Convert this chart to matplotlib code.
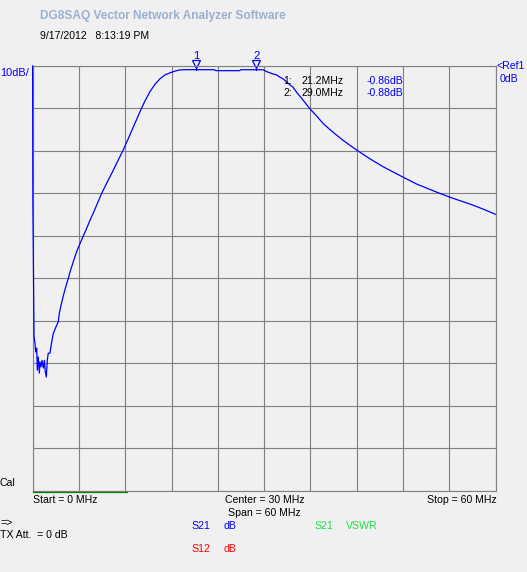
import matplotlib.pyplot as plt
import matplotlib.transforms as mtransforms
import numpy as np

W, H = 527, 572

# S21 trace (MHz, dB)
freq_mhz = [0.0, 0.03, 0.18, 0.31, 0.40, 0.53, 0.61, 0.74, 0.87, 0.96, 1.09, 1.22,
            1.39, 1.52, 1.65, 1.78, 1.90, 2.03, 2.25, 2.48, 2.68, 3.03, 3.33, 3.46,
            3.64, 3.90, 4.11, 4.42, 4.63, 4.85, 5.27, 5.71, 6.14, 6.57, 7.01, 7.44,
            7.87, 8.31, 8.95, 9.68, 10.3, 11.0, 11.68, 12.3, 12.9, 13.5, 14.05, 14.57,
            15.22, 15.86, 16.51, 17.16, 17.81, 18.46, 19.0, 19.5, 23.5, 23.8, 26.8,
            27.0, 29.9, 30.34, 31.15, 31.63, 32.06, 32.49, 32.93, 33.36, 33.75,
            34.22, 35.08, 35.95, 36.82, 37.67, 38.54, 39.41, 40.26, 41.13, 42.0,
            43.72, 45.45, 48.04, 49.78, 52.37, 54.09, 56.68, 58.41, 59.96]
s21_db = [0.0, -31.0, -63.6, -65.3, -67.3, -66.4, -71.6, -68.5, -72.3, -69.7, -70.8,
          -69.3, -71.1, -69.3, -72.0, -73.2, -69.3, -67.6, -67.6, -64.9, -63.0, -61.4,
          -60.2, -58.2, -56.7, -54.7, -53.2, -51.2, -50.0, -48.5, -46.1, -43.7, -41.8,
          -40.0, -38.2, -36.3, -34.6, -32.7, -30.0, -27.3, -25.1, -22.5, -20.0, -17.5,
          -15.0, -12.5, -10.2, -8.2, -6.0, -4.3, -3.0, -2.1, -1.6, -1.2, -0.95, -0.87,
          -0.87, -1.1, -1.1, -0.88, -0.88, -1.33, -1.87, -2.1, -2.65, -3.05, -3.8,
          -4.46, -5.0, -6.2, -8.1, -10.1, -11.8, -13.57, -14.98, -16.3, -17.53, -18.68,
          -19.79, -21.86, -23.74, -26.2, -27.8, -29.7, -30.9, -32.5, -33.7, -34.9]

marker_freq = [21.2, 29.0]
marker_db = [-0.86, -0.88]

BG = '#f0f0f0'
BLUE = '#0000ff'
plt.rcParams['font.family'] = ['Liberation Sans', 'DejaVu Sans']
FS = 7.6


def px(x, y):
    return x / W, 1 - y / H


fig = plt.figure(figsize=(W / 100, H / 100), dpi=100, facecolor=BG)
ax = fig.add_axes([32.6 / W, 1 - 490.8 / H, 463 / W, 424.8 / H])
ax.set_facecolor(BG)

ax.set_xlim(0, 60)
ax.set_ylim(-100, 0)
ax.set_xticks(np.linspace(0, 60, 11))
ax.set_yticks(np.arange(-100, 1, 10))
ax.tick_params(length=0, labelbottom=False, labelleft=False)
ax.grid(True, color='#808080', linewidth=0.8)
for sp in ax.spines.values():
    sp.set_color('#808080')
    sp.set_linewidth(0.8)

ax.plot(freq_mhz, s21_db, color=BLUE, linewidth=0.9, clip_on=False, zorder=3)

# sweep indicator along the bottom edge
ax.plot([0, 12.2], [-100.3, -100.3], color='#008000', linewidth=0.9, clip_on=False, zorder=4)

# markers above the grid
trans = mtransforms.blended_transform_factory(ax.transData, ax.transAxes)
for i, (f, d) in enumerate(zip(marker_freq, marker_db)):
    ax.plot([f, f], [-0.3, d], color=BLUE, linewidth=0.8, zorder=3)
    ax.plot([f], [1.005], marker='v', markersize=5.5, mfc='none', mec=BLUE,
            mew=0.9, transform=trans, clip_on=False)
    fig.text(*px(32.6 + f / 60 * 463, 56), str(i + 1), color=BLUE, fontsize=FS + 0.6,
             ha='center', va='center')

# marker readouts
for i, (f, d) in enumerate(zip(marker_freq, marker_db)):
    y = 81.5 + i * 12
    fig.text(*px(283.5, y), f"{i + 1}:", fontsize=FS, va='center')
    fig.text(*px(301.5, y), f"{f:.1f}MHz", fontsize=FS, va='center')
    fig.text(*px(403, y), f"{d:.2f}dB", fontsize=FS, va='center', ha='right', color=BLUE)

fig.text(*px(40.5, 16), "DG8SAQ Vector Network Analyzer Software", fontsize=8.6,
         fontweight='bold', color='#9bb1cf', va='center')
fig.text(*px(40.5, 36), "9/17/2012   8:13:19 PM", fontsize=FS, va='center')
fig.text(*px(0, 72.5), "10dB/", fontsize=FS + 0.3, va='center', color=BLUE)
fig.text(*px(496.5, 66), "<Ref1", fontsize=FS, va='center', color=BLUE)
fig.text(*px(499.5, 79), "0dB", fontsize=FS, va='center', color=BLUE)

fig.text(*px(0, 483), "Cal", fontsize=FS, va='center')
fig.text(*px(32.6, 500), "Start = 0 MHz", fontsize=FS, va='center')
fig.text(*px(264.5, 500), "Center = 30 MHz", fontsize=FS, va='center', ha='center')
fig.text(*px(264.5, 513), "Span = 60 MHz", fontsize=FS, va='center', ha='center')
fig.text(*px(496.5, 500), "Stop = 60 MHz", fontsize=FS, va='center', ha='right')
fig.text(*px(0, 522.5), "=>", fontsize=FS, va='center')
fig.text(*px(0, 535), "TX Att.  = 0 dB", fontsize=FS, va='center')

fig.text(*px(191.5, 526), "S21", fontsize=FS, va='center', color=BLUE)
fig.text(*px(223.5, 526), "dB", fontsize=FS, va='center', color=BLUE)
fig.text(*px(191.5, 549), "S12", fontsize=FS, va='center', color='#ff0000')
fig.text(*px(223.5, 549), "dB", fontsize=FS, va='center', color='#ff0000')
fig.text(*px(314.3, 526), "S21", fontsize=FS, va='center', color='#22dd44')
fig.text(*px(346.2, 526), "VSWR", fontsize=FS, va='center', color='#22dd44')

fig.savefig('out.png', dpi=100, facecolor=BG)
